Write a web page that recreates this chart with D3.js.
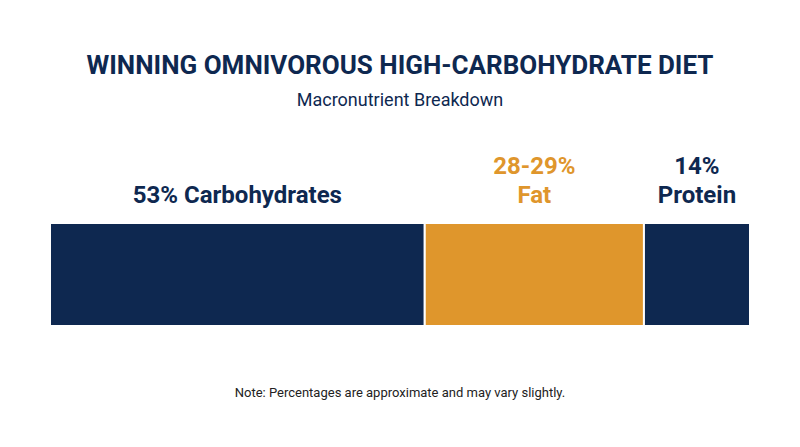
<!DOCTYPE html>
<html><head><meta charset="utf-8">
<script src="https://cdn.jsdelivr.net/npm/d3@7"></script>
<style>body{margin:0;background:#fff}</style>
</head><body>
<svg width="800" height="447"></svg>
<script>
const names = ["Carbohydrates", "Fat", "Protein"]
const shares = [53, 31, 15]
const labels = [["53% Carbohydrates"], ["28-29%", "Fat"], ["14%", "Protein"]]
const colors = ["#0e2850", "#df962c", "#0e2850"]
const labelColors = ["#0e2850", "#df962c", "#0e2850"]

const svg = d3.select("svg")
const font = "Roboto, 'Noto Sans', sans-serif"

svg.append("text").attr("x", 400).attr("y", 74).attr("text-anchor", "middle")
    .attr("font-family", font).attr("font-weight", 700).attr("font-size", 26)
    .attr("fill", "#0e2850").text("WINNING OMNIVOROUS HIGH-CARBOHYDRATE DIET")
svg.append("text").attr("x", 400).attr("y", 106).attr("text-anchor", "middle")
    .attr("font-family", font).attr("font-size", 18)
    .attr("fill", "#0e2850").text("Macronutrient Breakdown")

// накопленные позиции
let acc = 0
const stacked = shares.map((v, i) => { const d = {i, x0: acc, x1: acc + v}; acc += v; return d })

const x = d3.scaleLinear().domain([0, acc]).range([50, 750])
const y0 = 223, barH = 103

svg.selectAll("rect.seg").data(stacked).join("rect")
    .attr("x", d => x(d.x0)).attr("y", y0)
    .attr("width", d => x(d.x1) - x(d.x0)).attr("height", barH)
    .attr("fill", d => colors[d.i]).attr("stroke", "#fff").attr("stroke-width", 2)

stacked.forEach(d => {
    const lines = labels[d.i]
    const cx = (x(d.x0) + x(d.x1)) / 2
    const t = svg.append("text").attr("text-anchor", "middle")
        .attr("font-family", font).attr("font-weight", 700).attr("font-size", 24)
        .attr("fill", labelColors[d.i])
    lines.forEach((l, k) => {
        t.append("tspan").attr("x", cx).attr("y", 203 - (lines.length - 1 - k) * 29).text(l)
    })
})

svg.append("text").attr("x", 400).attr("y", 397).attr("text-anchor", "middle")
    .attr("font-family", font).attr("font-size", 13)
    .attr("fill", "#222").text("Note: Percentages are approximate and may vary slightly.")
</script>
</body></html>
